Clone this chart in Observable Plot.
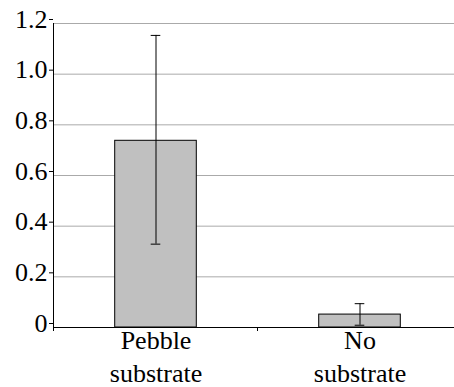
<!DOCTYPE html>
<html>
<head>
<meta charset="utf-8">
<script src="https://cdn.jsdelivr.net/npm/d3@7"></script>
<script src="https://cdn.jsdelivr.net/npm/@observablehq/plot@0.6"></script>
<style>
  html, body { margin: 0; padding: 0; background: #fff; overflow: hidden; }
  #preload { position: absolute; left: -2000px; top: 0; font: 26px "Liberation Serif"; white-space: nowrap; }
  #chart svg text { font-family: "Liberation Serif" !important; }
</style>
</head>
<body>
<span id="preload" aria-hidden="true">0.123456789 Pebble substrate No</span>
<div id="chart"></div>
<script>
const categories = ["Pebble substrate", "No substrate"];
const categoryLabels = ["Pebble\nsubstrate", "No\nsubstrate"];
const means = [0.737, 0.051];
const lower = [0.329, 0.009];
const upper = [1.153, 0.094];
const yTicks = [0, 0.2, 0.4, 0.6, 0.8, 1.0, 1.2];
const yTickLabels = ["0", "0.2", "0.4", "0.6", "0.8", "1.0", "1.2"];

const data = categories.map((c, i) => ({cat: c, mean: means[i], lo: lower[i], hi: upper[i]}));

function boundaryTicks(...args) {
  const scales = (args[1] && typeof args[1].x === "function") ? args[1] : args[0];
  const x = scales.x, y = scales.y;
  const step = x(categories[1]) - x(categories[0]);
  const g = d3.create("svg:g").attr("stroke", "black");
  const y0 = y(0);
  categories.forEach(c => {
    const bx = x(c) - 0.3 * step;
    g.append("line").attr("x1", bx).attr("x2", bx).attr("y1", y0).attr("y2", y0 + 4);
  });
  return g.node();
}

function render() {
  return Plot.plot({
    width: 454,
    height: 387,
    marginLeft: 53,
    marginRight: 0,
    marginTop: 23,
    marginBottom: 60,
    style: {fontFamily: "Liberation Serif", fontSize: "26px", color: "black"},
    x: {type: "band", domain: categories, range: [53.5, 461.5], paddingInner: 0.6, paddingOuter: 0.3, round: false},
    y: {domain: [0, 1.2]},
    marks: [
      Plot.gridY(yTicks, {stroke: "#aaaaaa", strokeOpacity: 1}),
      Plot.barY(data, {x: "cat", y: "mean", fill: "#c0c0c0", stroke: "black", strokeWidth: 1}),
      Plot.ruleX(data, {x: "cat", y1: "lo", y2: "hi", stroke: "black"}),
      Plot.tickY(data, {x: "cat", y: "hi", stroke: "black", insetLeft: 36, insetRight: 36}),
      Plot.tickY(data, {x: "cat", y: "lo", stroke: "black", insetLeft: 36, insetRight: 36}),
      Plot.ruleY([0], {stroke: "black"}),
      Plot.frame({anchor: "left", stroke: "black"}),
      Plot.axisY({ticks: yTicks, tickFormat: d => yTickLabels[yTicks.indexOf(d)], tickSize: 4, tickPadding: 2, dy: -4, fontVariant: "normal", label: null}),
      Plot.axisX({tickSize: 0, tickPadding: 3, dy: -5, tickFormat: d => categoryLabels[categories.indexOf(d)], lineHeight: 1.27, label: null}),
      boundaryTicks
    ]
  });
}

const container = document.getElementById("chart");
container.appendChild(render());
const refresh = () => container.replaceChildren(render());
requestAnimationFrame(() => requestAnimationFrame(refresh));
setTimeout(refresh, 30);
setTimeout(refresh, 100);
if (document.fonts) {
  document.fonts.ready.then(refresh).catch(() => {});
  if (document.fonts.load) document.fonts.load("26px 'Liberation Serif'").then(refresh).catch(() => {});
}
</script>
</body>
</html>
